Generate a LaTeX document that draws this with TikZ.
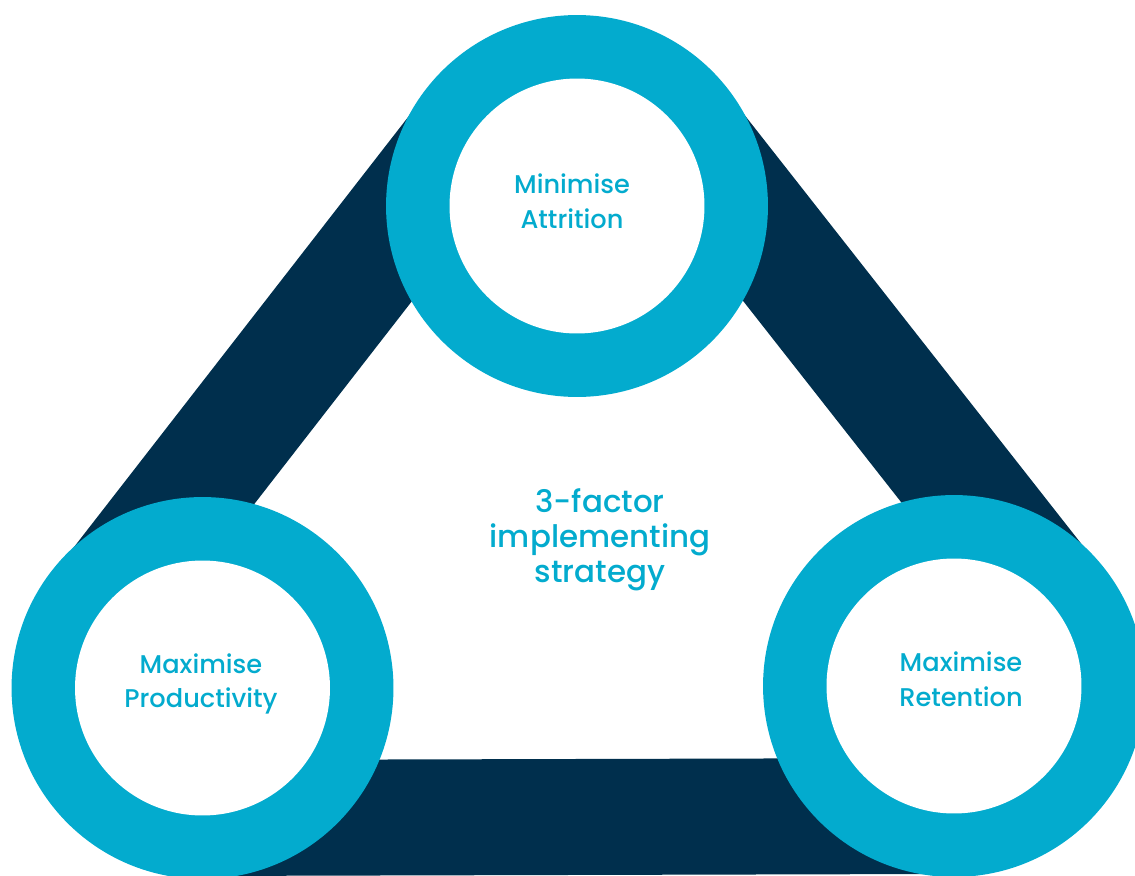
\documentclass[tikz,border=0pt]{standalone}
\usepackage{fontspec}
\setmainfont{Poppins Medium}
\usetikzlibrary{calc,backgrounds}
\definecolor{ringcyan}{HTML}{03ABCE}
\definecolor{bandnavy}{HTML}{002F4D}
\begin{document}
\begin{tikzpicture}[x=0.02cm,y=-0.02cm,
  ring/.style={circle, fill=ringcyan, minimum size=7.64cm, inner sep=0pt},
  hole/.style={circle, fill=white, minimum size=5.1cm, inner sep=0pt},
  ringtext/.style={text=ringcyan, align=center, inner sep=0pt,
    font=\fontsize{14.6}{19.8}\selectfont},
  midtext/.style={text=ringcyan, align=center, inner sep=0pt,
    font=\fontsize{17.6}{19.8}\selectfont},
  band/.style={draw=bandnavy, line width=2.32cm, line cap=butt},
]
\useasboundingbox (0,0) rectangle (1135,875);
\clip (0,0) rectangle (1135,875);

% the three rings
\node[ring] (ringT) at (577,206) {};
\node[ring] (ringL) at (202.5,688) {};
\node[ring] (ringR) at (954,686) {};
\node[hole] (holeT) at (ringT.center) {};
\node[hole] (holeL) at (ringL.center) {};
\node[hole] (holeR) at (ringR.center) {};

% ring captions
\node[ringtext] (attrition) at (572,201) {Minimise\\Attrition};
\node[ringtext] (productivity) at (201,684) {Maximise\\Productivity};
\node[ringtext] (retention) at (961,679) {Maximise\\Retention};
\node[midtext] (strategy) at (600,540) {3-factor\\implementing\\strategy};

% dark bands joining the rings, pushed outward from the centre lines
\begin{pgfonlayer}{background}
  \draw[band] ($(ringL.center)!2.6cm!90:(ringT.center)$) -- ($(ringT.center)!2.6cm!-90:(ringL.center)$);
  \draw[band] ($(ringT.center)!2.6cm!90:(ringR.center)$) -- ($(ringR.center)!2.6cm!-90:(ringT.center)$);
  \draw[band] ($(ringL.center)!2.6cm!-90:(ringR.center)$) -- ($(ringR.center)!2.6cm!90:(ringL.center)$);
\end{pgfonlayer}
\end{tikzpicture}
\end{document}
